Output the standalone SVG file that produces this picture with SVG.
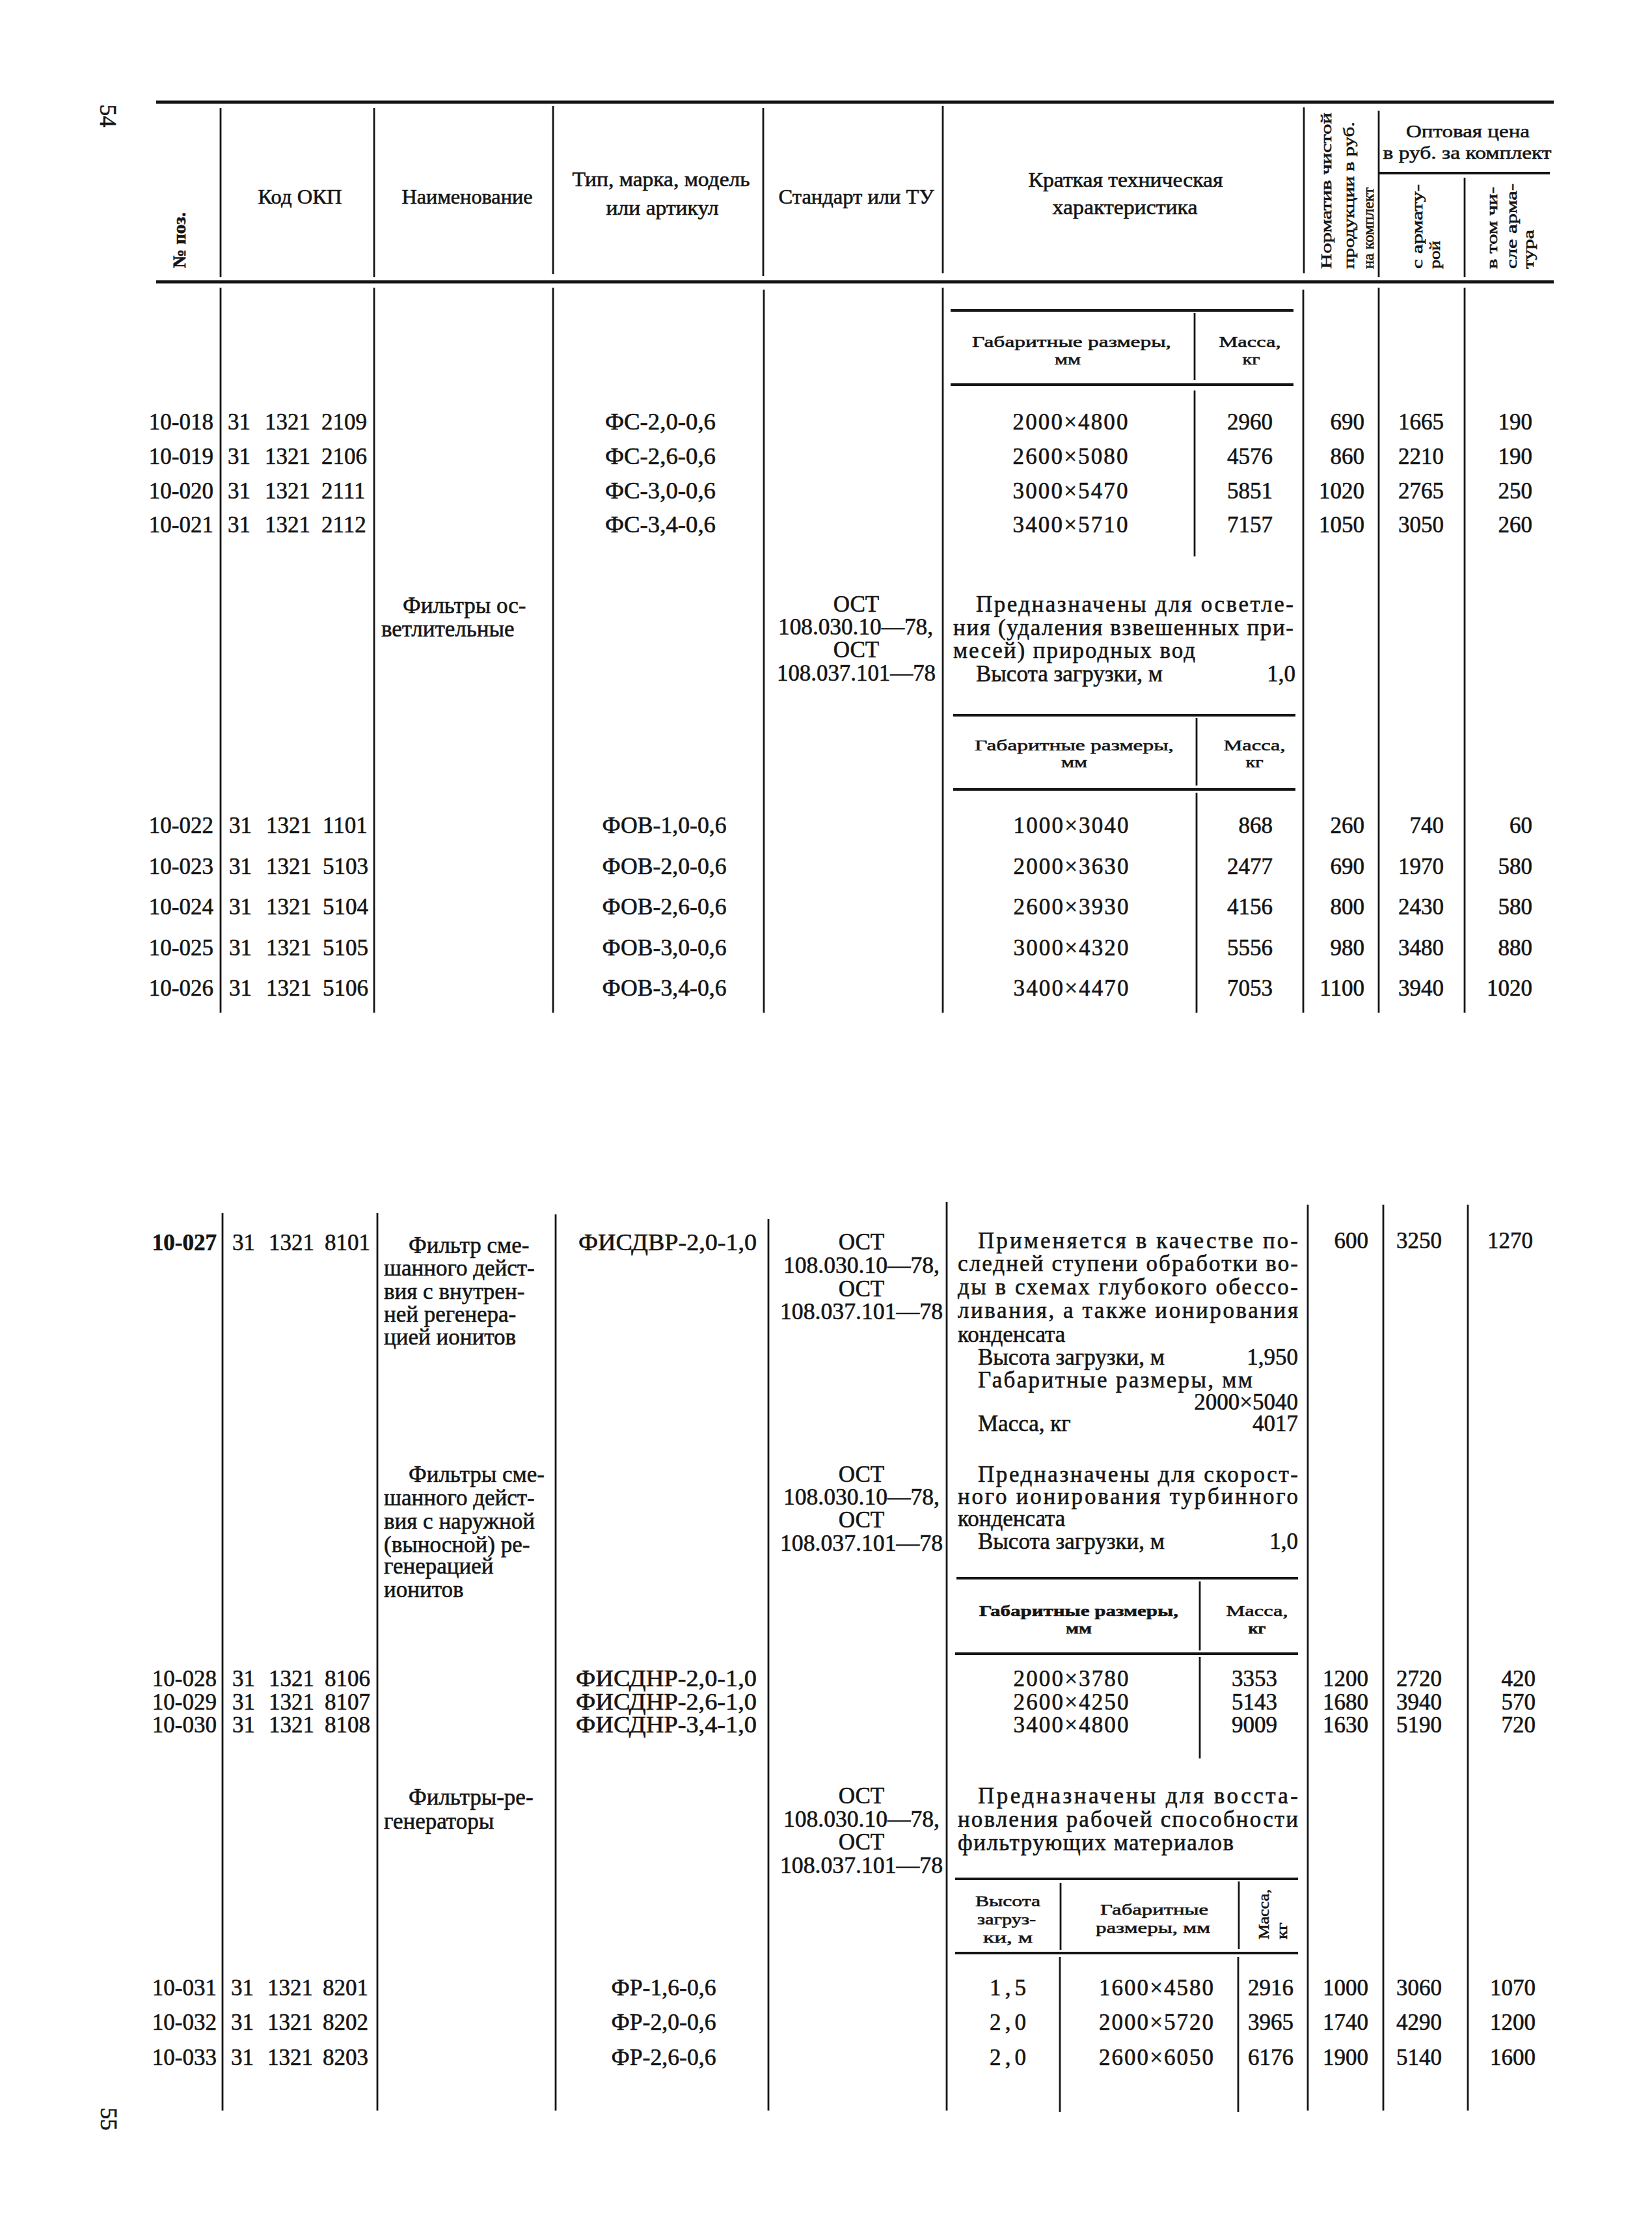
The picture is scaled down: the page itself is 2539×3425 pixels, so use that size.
<svg xmlns="http://www.w3.org/2000/svg" width="2539" height="3425" viewBox="0 0 2539 3425">
<style>
text{font-family:"Liberation Serif","Times New Roman",serif;fill:#151515;stroke:#151515;stroke-width:0.6}
.n{font-size:35px}
.h{font-size:31px}
.k{font-size:28px}
.s{font-size:24px}
.r{font-size:24px}
.e{text-anchor:end}
.m{text-anchor:middle}
.b{font-weight:bold}
.rule{stroke:#151515;stroke-width:5;fill:none}
.v{stroke:#151515;stroke-width:2.8;fill:none}
.sr{stroke:#151515;stroke-width:4;fill:none}
</style>
<rect x="0" y="0" width="2539" height="3425" fill="#ffffff" stroke="none"/>

<g id="page-numbers">
<text class="n m" transform="translate(166,178) rotate(90)" dy="12">54</text>
<text class="n m" transform="translate(167,3256) rotate(90)" dy="12">55</text>
</g>

<g id="connectors">
<line class="rule" x1="240" y1="157" x2="2388" y2="157"/>
<line class="rule" x1="240" y1="433" x2="2388" y2="433"/>
<line class="sr" x1="2120" y1="266" x2="2382" y2="266"/>
<line class="v" x1="339" y1="166" x2="339" y2="426"/>
<line class="v" x1="575" y1="166" x2="575" y2="426"/>
<line class="v" x1="850" y1="163" x2="850" y2="421"/>
<line class="v" x1="1173" y1="166" x2="1173" y2="424"/>
<line class="v" x1="1449" y1="163" x2="1449" y2="420"/>
<line class="v" x1="2004" y1="165" x2="2004" y2="420"/>
<line class="v" x1="2119" y1="170" x2="2119" y2="426"/>
<line class="v" x1="2251" y1="273" x2="2251" y2="426"/>
<line class="v" x1="339" y1="442" x2="339" y2="1556"/>
<line class="v" x1="575" y1="442" x2="575" y2="1556"/>
<line class="v" x1="850" y1="442" x2="850" y2="1556"/>
<line class="v" x1="1174" y1="445" x2="1174" y2="1556"/>
<line class="v" x1="1449" y1="442" x2="1449" y2="1556"/>
<line class="v" x1="2003" y1="445" x2="2003" y2="1556"/>
<line class="v" x1="2119" y1="442" x2="2119" y2="1556"/>
<line class="v" x1="2251" y1="442" x2="2251" y2="1556"/>
<line class="sr" x1="1461" y1="477" x2="1988" y2="477"/>
<line class="sr" x1="1461" y1="591" x2="1988" y2="591"/>
<line class="v" x1="1836" y1="481" x2="1836" y2="584"/>
<line class="v" x1="1836" y1="600" x2="1836" y2="855"/>
<line class="sr" x1="1465" y1="1099" x2="1991" y2="1099"/>
<line class="sr" x1="1465" y1="1213" x2="1991" y2="1213"/>
<line class="v" x1="1839" y1="1103" x2="1839" y2="1207"/>
<line class="v" x1="1839" y1="1218" x2="1839" y2="1556"/>
<line class="v" x1="342" y1="1864" x2="342" y2="3243"/>
<line class="v" x1="580" y1="1864" x2="580" y2="3243"/>
<line class="v" x1="854" y1="1866" x2="854" y2="3243"/>
<line class="v" x1="1181" y1="1873" x2="1181" y2="3243"/>
<line class="v" x1="1455" y1="1847" x2="1455" y2="3243"/>
<line class="v" x1="2010" y1="1851" x2="2010" y2="3243"/>
<line class="v" x1="2126" y1="1851" x2="2126" y2="3243"/>
<line class="v" x1="2256" y1="1851" x2="2256" y2="3243"/>
<line class="sr" x1="1470" y1="2425" x2="1995" y2="2425"/>
<line class="sr" x1="1468" y1="2541" x2="1995" y2="2541"/>
<line class="v" x1="1844" y1="2430" x2="1844" y2="2536"/>
<line class="v" x1="1844" y1="2546" x2="1844" y2="2702"/>
<line class="sr" x1="1468" y1="2887" x2="1995" y2="2887"/>
<line class="sr" x1="1468" y1="3001" x2="1995" y2="3001"/>
<line class="v" x1="1630" y1="2893" x2="1630" y2="2996"/>
<line class="v" x1="1904" y1="2891" x2="1904" y2="2995"/>
<line class="v" x1="1629" y1="3007" x2="1629" y2="3245"/>
<line class="v" x1="1903" y1="3007" x2="1903" y2="3245"/>
</g>

<g id="header">
<text class="b" font-size="28" transform="translate(285,412) rotate(-90)" textLength="86" lengthAdjust="spacingAndGlyphs">№ поз.</text>
<text class="h m" x="461" y="313" textLength="129" lengthAdjust="spacingAndGlyphs">Код ОКП</text>
<text class="h m" x="718" y="313" textLength="201" lengthAdjust="spacingAndGlyphs">Наименование</text>
<text class="h m" x="1016" y="286" textLength="273" lengthAdjust="spacingAndGlyphs">Тип, марка, модель</text>
<text class="h m" x="1018" y="330" textLength="173" lengthAdjust="spacingAndGlyphs">или артикул</text>
<text class="h m" x="1316" y="313" textLength="239" lengthAdjust="spacingAndGlyphs">Стандарт или ТУ</text>
<text class="h m" x="1730" y="287" textLength="299" lengthAdjust="spacingAndGlyphs">Краткая техническая</text>
<text class="h m" x="1729" y="329" textLength="223" lengthAdjust="spacingAndGlyphs">характеристика</text>
<text class="r" transform="translate(2046,413) rotate(-90)" textLength="240" lengthAdjust="spacingAndGlyphs">Норматив чистой</text>
<text class="r" transform="translate(2081,413) rotate(-90)" textLength="226" lengthAdjust="spacingAndGlyphs">продукции в руб.</text>
<text class="r" transform="translate(2111,413) rotate(-90)" textLength="125" lengthAdjust="spacingAndGlyphs">на комплект</text>
<text class="k m" x="2256" y="211" textLength="190" lengthAdjust="spacingAndGlyphs">Оптовая цена</text>
<text class="k m" x="2255" y="244" textLength="259" lengthAdjust="spacingAndGlyphs">в руб. за комплект</text>
<text class="r" transform="translate(2186,413) rotate(-90)" textLength="130" lengthAdjust="spacingAndGlyphs">с армату-</text>
<text class="r" transform="translate(2213,413) rotate(-90)" textLength="43" lengthAdjust="spacingAndGlyphs">рой</text>
<text class="r" transform="translate(2301,413) rotate(-90)" textLength="126" lengthAdjust="spacingAndGlyphs">в том чи-</text>
<text class="r" transform="translate(2331,413) rotate(-90)" textLength="131" lengthAdjust="spacingAndGlyphs">сле арма-</text>
<text class="r" transform="translate(2357,413) rotate(-90)" textLength="60" lengthAdjust="spacingAndGlyphs">тура</text>
</g>

<g id="subtable-1-head">
<text class="s m" x="1647" y="533" textLength="306" lengthAdjust="spacingAndGlyphs">Габаритные размеры,</text>
<text class="s m" x="1641" y="560" textLength="40" lengthAdjust="spacingAndGlyphs">мм</text>
<text class="s m" x="1921" y="533" textLength="95" lengthAdjust="spacingAndGlyphs">Масса,</text>
<text class="s m" x="1923" y="560" textLength="27" lengthAdjust="spacingAndGlyphs">кг</text>
</g>

<g id="row-10-018">
<text class="n e" x="328" y="660">10-018</text>
<text class="n" y="660"><tspan x="350">31</tspan><tspan x="407">1321</tspan><tspan x="494">2109</tspan></text>
<text class="n m" x="1015" y="660" textLength="170" lengthAdjust="spacingAndGlyphs">ФС-2,0-0,6</text>
<text class="n m" x="1645" y="660" textLength="177" lengthAdjust="spacing">2000×4800</text>
<text class="n e" x="1956" y="660">2960</text>
<text class="n e" x="2097" y="660">690</text>
<text class="n e" x="2219" y="660">1665</text>
<text class="n e" x="2355" y="660">190</text>
</g>
<g id="row-10-019">
<text class="n e" x="328" y="713">10-019</text>
<text class="n" y="713"><tspan x="350">31</tspan><tspan x="407">1321</tspan><tspan x="494">2106</tspan></text>
<text class="n m" x="1015" y="713" textLength="170" lengthAdjust="spacingAndGlyphs">ФС-2,6-0,6</text>
<text class="n m" x="1645" y="713" textLength="177" lengthAdjust="spacing">2600×5080</text>
<text class="n e" x="1956" y="713">4576</text>
<text class="n e" x="2097" y="713">860</text>
<text class="n e" x="2219" y="713">2210</text>
<text class="n e" x="2355" y="713">190</text>
</g>
<g id="row-10-020">
<text class="n e" x="328" y="766">10-020</text>
<text class="n" y="766"><tspan x="350">31</tspan><tspan x="407">1321</tspan><tspan x="494">2111</tspan></text>
<text class="n m" x="1015" y="766" textLength="170" lengthAdjust="spacingAndGlyphs">ФС-3,0-0,6</text>
<text class="n m" x="1645" y="766" textLength="177" lengthAdjust="spacing">3000×5470</text>
<text class="n e" x="1956" y="766">5851</text>
<text class="n e" x="2097" y="766">1020</text>
<text class="n e" x="2219" y="766">2765</text>
<text class="n e" x="2355" y="766">250</text>
</g>
<g id="row-10-021">
<text class="n e" x="328" y="818">10-021</text>
<text class="n" y="818"><tspan x="350">31</tspan><tspan x="407">1321</tspan><tspan x="494">2112</tspan></text>
<text class="n m" x="1015" y="818" textLength="170" lengthAdjust="spacingAndGlyphs">ФС-3,4-0,6</text>
<text class="n m" x="1645" y="818" textLength="177" lengthAdjust="spacing">3400×5710</text>
<text class="n e" x="1956" y="818">7157</text>
<text class="n e" x="2097" y="818">1050</text>
<text class="n e" x="2219" y="818">3050</text>
<text class="n e" x="2355" y="818">260</text>
</g>

<g id="group-osvetlitelnye">
<text class="n" x="619" y="942">Фильтры ос-</text>
<text class="n" x="586" y="978">ветлительные</text>
<text class="n m" x="1316" y="940">ОСТ</text>
<text class="n m" x="1315" y="975" textLength="238" lengthAdjust="spacingAndGlyphs">108.030.10—78,</text>
<text class="n m" x="1316" y="1010">ОСТ</text>
<text class="n m" x="1316" y="1046" textLength="244" lengthAdjust="spacingAndGlyphs">108.037.101—78</text>
<text class="n" x="1500" y="940" textLength="488" lengthAdjust="spacing">Предназначены для осветле-</text>
<text class="n" x="1465" y="976" textLength="523" lengthAdjust="spacing">ния (удаления взвешенных при-</text>
<text class="n" x="1465" y="1011" textLength="372" lengthAdjust="spacing">месей) природных вод</text>
<text class="n" x="1500" y="1047">Высота загрузки, м</text>
<text class="n e" x="1991" y="1047">1,0</text>
<text class="s m" x="1651" y="1153" textLength="306" lengthAdjust="spacingAndGlyphs">Габаритные размеры,</text>
<text class="s m" x="1651" y="1179" textLength="40" lengthAdjust="spacingAndGlyphs">мм</text>
<text class="s m" x="1928" y="1153" textLength="95" lengthAdjust="spacingAndGlyphs">Масса,</text>
<text class="s m" x="1928" y="1179" textLength="27" lengthAdjust="spacingAndGlyphs">кг</text>
</g>

<g id="row-10-022">
<text class="n e" x="328" y="1280">10-022</text>
<text class="n" y="1280"><tspan x="352">31</tspan><tspan x="409">1321</tspan><tspan x="496">1101</tspan></text>
<text class="n m" x="1021" y="1280" textLength="191" lengthAdjust="spacingAndGlyphs">ФОВ-1,0-0,6</text>
<text class="n m" x="1646" y="1280" textLength="177" lengthAdjust="spacing">1000×3040</text>
<text class="n e" x="1956" y="1280">868</text>
<text class="n e" x="2097" y="1280">260</text>
<text class="n e" x="2219" y="1280">740</text>
<text class="n e" x="2355" y="1280">60</text>
</g>
<g id="row-10-023">
<text class="n e" x="328" y="1343">10-023</text>
<text class="n" y="1343"><tspan x="352">31</tspan><tspan x="409">1321</tspan><tspan x="496">5103</tspan></text>
<text class="n m" x="1021" y="1343" textLength="191" lengthAdjust="spacingAndGlyphs">ФОВ-2,0-0,6</text>
<text class="n m" x="1646" y="1343" textLength="177" lengthAdjust="spacing">2000×3630</text>
<text class="n e" x="1956" y="1343">2477</text>
<text class="n e" x="2097" y="1343">690</text>
<text class="n e" x="2219" y="1343">1970</text>
<text class="n e" x="2355" y="1343">580</text>
</g>
<g id="row-10-024">
<text class="n e" x="328" y="1405">10-024</text>
<text class="n" y="1405"><tspan x="352">31</tspan><tspan x="409">1321</tspan><tspan x="496">5104</tspan></text>
<text class="n m" x="1021" y="1405" textLength="191" lengthAdjust="spacingAndGlyphs">ФОВ-2,6-0,6</text>
<text class="n m" x="1646" y="1405" textLength="177" lengthAdjust="spacing">2600×3930</text>
<text class="n e" x="1956" y="1405">4156</text>
<text class="n e" x="2097" y="1405">800</text>
<text class="n e" x="2219" y="1405">2430</text>
<text class="n e" x="2355" y="1405">580</text>
</g>
<g id="row-10-025">
<text class="n e" x="328" y="1468">10-025</text>
<text class="n" y="1468"><tspan x="352">31</tspan><tspan x="409">1321</tspan><tspan x="496">5105</tspan></text>
<text class="n m" x="1021" y="1468" textLength="191" lengthAdjust="spacingAndGlyphs">ФОВ-3,0-0,6</text>
<text class="n m" x="1646" y="1468" textLength="177" lengthAdjust="spacing">3000×4320</text>
<text class="n e" x="1956" y="1468">5556</text>
<text class="n e" x="2097" y="1468">980</text>
<text class="n e" x="2219" y="1468">3480</text>
<text class="n e" x="2355" y="1468">880</text>
</g>
<g id="row-10-026">
<text class="n e" x="328" y="1530">10-026</text>
<text class="n" y="1530"><tspan x="352">31</tspan><tspan x="409">1321</tspan><tspan x="496">5106</tspan></text>
<text class="n m" x="1021" y="1530" textLength="191" lengthAdjust="spacingAndGlyphs">ФОВ-3,4-0,6</text>
<text class="n m" x="1646" y="1530" textLength="177" lengthAdjust="spacing">3400×4470</text>
<text class="n e" x="1956" y="1530">7053</text>
<text class="n e" x="2097" y="1530">1100</text>
<text class="n e" x="2219" y="1530">3940</text>
<text class="n e" x="2355" y="1530">1020</text>
</g>

<g id="row-10-027">
<text class="n e b" x="333" y="1921">10-027</text>
<text class="n" y="1921"><tspan x="357">31</tspan><tspan x="413">1321</tspan><tspan x="499">8101</tspan></text>
<text class="n" x="628" y="1925">Фильтр сме-</text>
<text class="n" x="590" y="1960">шанного дейст-</text>
<text class="n" x="590" y="1996">вия с внутрен-</text>
<text class="n" x="590" y="2031">ней регенера-</text>
<text class="n" x="590" y="2066">цией ионитов</text>
<text class="n m" x="1026" y="1921" textLength="274" lengthAdjust="spacingAndGlyphs">ФИСДВР-2,0-1,0</text>
<text class="n m" x="1324" y="1920">ОСТ</text>
<text class="n m" x="1324" y="1956" textLength="240" lengthAdjust="spacingAndGlyphs">108.030.10—78,</text>
<text class="n m" x="1324" y="1992">ОСТ</text>
<text class="n m" x="1324" y="2027" textLength="250" lengthAdjust="spacingAndGlyphs">108.037.101—78</text>
<text class="n" x="1503" y="1918" textLength="492" lengthAdjust="spacing">Применяется в качестве по-</text>
<text class="n" x="1472" y="1953" textLength="523" lengthAdjust="spacing">следней ступени обработки во-</text>
<text class="n" x="1472" y="1989" textLength="523" lengthAdjust="spacing">ды в схемах глубокого обессо-</text>
<text class="n" x="1472" y="2025" textLength="523" lengthAdjust="spacing">ливания, а также ионирования</text>
<text class="n" x="1472" y="2062">конденсата</text>
<text class="n" x="1503" y="2097">Высота загрузки, м</text>
<text class="n e" x="1995" y="2097">1,950</text>
<text class="n" x="1503" y="2132" textLength="422" lengthAdjust="spacing">Габаритные размеры, мм</text>
<text class="n e" x="1995" y="2166">2000×5040</text>
<text class="n" x="1503" y="2199">Масса, кг</text>
<text class="n e" x="1995" y="2199">4017</text>
<text class="n e" x="2103" y="1918">600</text>
<text class="n e" x="2216" y="1918">3250</text>
<text class="n e" x="2356" y="1918">1270</text>
</g>

<g id="group-naruzhnoj">
<text class="n" x="628" y="2277">Фильтры сме-</text>
<text class="n" x="590" y="2313">шанного дейст-</text>
<text class="n" x="590" y="2349">вия с наружной</text>
<text class="n" x="590" y="2385">(выносной) ре-</text>
<text class="n" x="590" y="2418">генерацией</text>
<text class="n" x="590" y="2454">ионитов</text>
<text class="n m" x="1324" y="2277">ОСТ</text>
<text class="n m" x="1324" y="2312" textLength="240" lengthAdjust="spacingAndGlyphs">108.030.10—78,</text>
<text class="n m" x="1324" y="2347">ОСТ</text>
<text class="n m" x="1324" y="2383" textLength="250" lengthAdjust="spacingAndGlyphs">108.037.101—78</text>
<text class="n" x="1503" y="2277" textLength="492" lengthAdjust="spacing">Предназначены для скорост-</text>
<text class="n" x="1472" y="2311" textLength="523" lengthAdjust="spacing">ного ионирования турбинного</text>
<text class="n" x="1472" y="2345">конденсата</text>
<text class="n" x="1503" y="2380">Высота загрузки, м</text>
<text class="n e" x="1995" y="2380">1,0</text>
<text class="s m b" x="1658" y="2483" textLength="306" lengthAdjust="spacingAndGlyphs">Габаритные размеры,</text>
<text class="s m b" x="1658" y="2510" textLength="40" lengthAdjust="spacingAndGlyphs">мм</text>
<text class="s m" x="1932" y="2483" textLength="95" lengthAdjust="spacingAndGlyphs">Масса,</text>
<text class="s m b" x="1932" y="2510" textLength="27" lengthAdjust="spacingAndGlyphs">кг</text>
</g>

<g id="row-10-028">
<text class="n e" x="333" y="2591">10-028</text>
<text class="n" y="2591"><tspan x="357">31</tspan><tspan x="413">1321</tspan><tspan x="499">8106</tspan></text>
<text class="n m" x="1024" y="2591" textLength="278" lengthAdjust="spacingAndGlyphs">ФИСДНР-2,0-1,0</text>
<text class="n m" x="1646" y="2591" textLength="177" lengthAdjust="spacing">2000×3780</text>
<text class="n e" x="1963" y="2591">3353</text>
<text class="n e" x="2103" y="2591">1200</text>
<text class="n e" x="2216" y="2591">2720</text>
<text class="n e" x="2360" y="2591">420</text>
</g>
<g id="row-10-029">
<text class="n e" x="333" y="2627">10-029</text>
<text class="n" y="2627"><tspan x="357">31</tspan><tspan x="413">1321</tspan><tspan x="499">8107</tspan></text>
<text class="n m" x="1024" y="2627" textLength="278" lengthAdjust="spacingAndGlyphs">ФИСДНР-2,6-1,0</text>
<text class="n m" x="1646" y="2627" textLength="177" lengthAdjust="spacing">2600×4250</text>
<text class="n e" x="1963" y="2627">5143</text>
<text class="n e" x="2103" y="2627">1680</text>
<text class="n e" x="2216" y="2627">3940</text>
<text class="n e" x="2360" y="2627">570</text>
</g>
<g id="row-10-030">
<text class="n e" x="333" y="2662">10-030</text>
<text class="n" y="2662"><tspan x="357">31</tspan><tspan x="413">1321</tspan><tspan x="499">8108</tspan></text>
<text class="n m" x="1024" y="2662" textLength="278" lengthAdjust="spacingAndGlyphs">ФИСДНР-3,4-1,0</text>
<text class="n m" x="1646" y="2662" textLength="177" lengthAdjust="spacing">3400×4800</text>
<text class="n e" x="1963" y="2662">9009</text>
<text class="n e" x="2103" y="2662">1630</text>
<text class="n e" x="2216" y="2662">5190</text>
<text class="n e" x="2360" y="2662">720</text>
</g>

<g id="group-regeneratory">
<text class="n" x="628" y="2773">Фильтры-ре-</text>
<text class="n" x="590" y="2810">генераторы</text>
<text class="n m" x="1324" y="2771">ОСТ</text>
<text class="n m" x="1324" y="2807" textLength="240" lengthAdjust="spacingAndGlyphs">108.030.10—78,</text>
<text class="n m" x="1324" y="2842">ОСТ</text>
<text class="n m" x="1324" y="2878" textLength="250" lengthAdjust="spacingAndGlyphs">108.037.101—78</text>
<text class="n" x="1503" y="2771" textLength="492" lengthAdjust="spacing">Предназначены для восста-</text>
<text class="n" x="1472" y="2807" textLength="523" lengthAdjust="spacing">новления рабочей способности</text>
<text class="n" x="1472" y="2843" textLength="424" lengthAdjust="spacing">фильтрующих материалов</text>
<text class="s m" x="1549" y="2929" textLength="100" lengthAdjust="spacingAndGlyphs">Высота</text>
<text class="s m" x="1547" y="2957" textLength="90" lengthAdjust="spacingAndGlyphs">загруз-</text>
<text class="s m" x="1549" y="2985" textLength="76" lengthAdjust="spacingAndGlyphs">ки, м</text>
<text class="s m" x="1774" y="2942" textLength="166" lengthAdjust="spacingAndGlyphs">Габаритные</text>
<text class="s m" x="1772" y="2970" textLength="176" lengthAdjust="spacingAndGlyphs">размеры, мм</text>
<text class="s" transform="translate(1950,2980) rotate(-90)" textLength="77" lengthAdjust="spacingAndGlyphs">Масса,</text>
<text class="s" transform="translate(1978,2980) rotate(-90)" textLength="26" lengthAdjust="spacingAndGlyphs">кг</text>
</g>

<g id="row-10-031">
<text class="n e" x="333" y="3066">10-031</text>
<text class="n" y="3066"><tspan x="355">31</tspan><tspan x="411">1321</tspan><tspan x="496">8201</tspan></text>
<text class="n m" x="1020" y="3066" textLength="161" lengthAdjust="spacingAndGlyphs">ФР-1,6-0,6</text>
<text class="n m" x="1549" y="3066" textLength="56" lengthAdjust="spacing">1,5</text>
<text class="n m" x="1777" y="3066" textLength="176" lengthAdjust="spacing">1600×4580</text>
<text class="n e" x="1988" y="3066">2916</text>
<text class="n e" x="2103" y="3066">1000</text>
<text class="n e" x="2216" y="3066">3060</text>
<text class="n e" x="2360" y="3066">1070</text>
</g>
<g id="row-10-032">
<text class="n e" x="333" y="3119">10-032</text>
<text class="n" y="3119"><tspan x="355">31</tspan><tspan x="411">1321</tspan><tspan x="496">8202</tspan></text>
<text class="n m" x="1020" y="3119" textLength="161" lengthAdjust="spacingAndGlyphs">ФР-2,0-0,6</text>
<text class="n m" x="1549" y="3119" textLength="56" lengthAdjust="spacing">2,0</text>
<text class="n m" x="1777" y="3119" textLength="176" lengthAdjust="spacing">2000×5720</text>
<text class="n e" x="1988" y="3119">3965</text>
<text class="n e" x="2103" y="3119">1740</text>
<text class="n e" x="2216" y="3119">4290</text>
<text class="n e" x="2360" y="3119">1200</text>
</g>
<g id="row-10-033">
<text class="n e" x="333" y="3173">10-033</text>
<text class="n" y="3173"><tspan x="355">31</tspan><tspan x="411">1321</tspan><tspan x="496">8203</tspan></text>
<text class="n m" x="1020" y="3173" textLength="161" lengthAdjust="spacingAndGlyphs">ФР-2,6-0,6</text>
<text class="n m" x="1549" y="3173" textLength="56" lengthAdjust="spacing">2,0</text>
<text class="n m" x="1777" y="3173" textLength="176" lengthAdjust="spacing">2600×6050</text>
<text class="n e" x="1988" y="3173">6176</text>
<text class="n e" x="2103" y="3173">1900</text>
<text class="n e" x="2216" y="3173">5140</text>
<text class="n e" x="2360" y="3173">1600</text>
</g>
</svg>
